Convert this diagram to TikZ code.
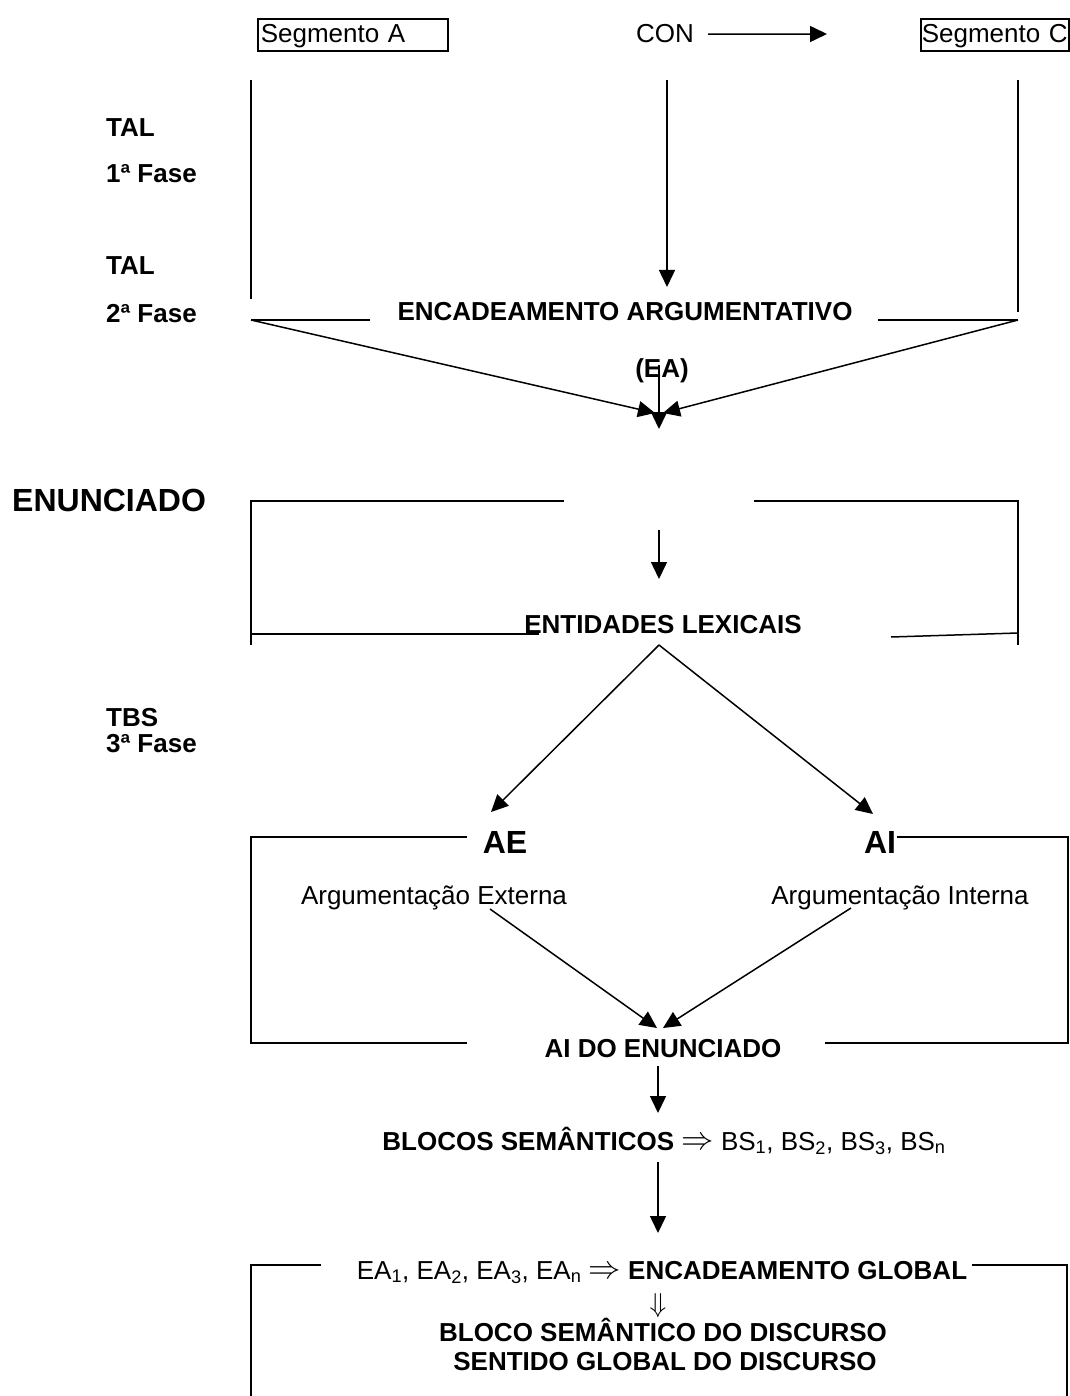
\documentclass[tikz,border=0pt]{standalone}
\usepackage{fontspec}
\setmainfont{Liberation Sans}
\usetikzlibrary{arrows.meta}

\tikzset{
  txt/.style={font=\fontsize{26}{30}\selectfont, inner sep=0pt},
  btxt/.style={font=\fontsize{26}{30}\selectfont\bfseries, inner sep=0pt},
  bigtxt/.style={font=\fontsize{32}{36}\selectfont\bfseries, inner sep=0pt},
  ln/.style={line width=1.5pt},
  arr/.style={line width=1.5pt, -{Triangle[length=17pt,width=16pt]}},
  segbox/.style={txt, draw, line width=1.6pt, anchor=north west, minimum height=32pt,
    align=left, text height=19pt, text depth=3pt}
}
% thin double arrows used inside the text lines
\newcommand{\implarrow}{\raisebox{1pt}{\scalebox{1.3}{$\Rightarrow$}}}
\newcommand{\downimpl}{\scalebox{1.1}{$\Downarrow$}}

\begin{document}
\begin{tikzpicture}[x=1pt, y=-1pt]
\useasboundingbox (0,0) rectangle (1069,1396);

% --- top row: segments and connector
\node[segbox, minimum width=190pt, text width=184pt] (segA) at (257,18) {Segmento A};
\node[segbox, minimum width=148pt, text width=146pt] (segC) at (920,18) {Segmento C};
\node[txt, anchor=base west] (con) at (636,43) {CON};
\coordinate (conTip) at (827,34);
\draw[arr] ([xshift=14pt]con.east) -- (conTip);

% --- side labels
\node[btxt, anchor=base west] (talA) at (106,137) {TAL};
\node[btxt, anchor=base west] (faseA) at (106,183) {1ª Fase};
\node[btxt, anchor=base west] (talB) at (106,275) {TAL};
\node[btxt, anchor=base west] (faseB) at (106,322) {2ª Fase};
\node[bigtxt, anchor=base west] (enun) at (12,511) {ENUNCIADO};
\node[btxt, anchor=base west] (tbs) at (106,726) {TBS};
\node[btxt, anchor=base west] (faseC) at (106,752) {3ª Fase};

% --- first and second phase
\coordinate (conFoot) at (667,80);
\coordinate (conDrop) at (667,287);
\draw[ln] (251,80) -- (251,299);
\draw[ln] (1018,80) -- (1018,312);
\draw[arr] (conFoot) -- (conDrop);

\node[btxt, anchor=base] (ea) at (625,320) {ENCADEAMENTO ARGUMENTATIVO};
\node[btxt, anchor=base] (eaAbbr) at (662,377) {(EA)};
\coordinate (eaL) at (251,320);
\coordinate (eaR) at (1018,320);
\draw[ln] (eaL) -- (370,320);
\draw[ln] (878,320) -- (eaR);
\coordinate (mergeL) at (655,413);
\coordinate (mergeR) at (663,413);
\coordinate (eaStem) at (659,365);
\coordinate (eaDrop) at (659,429);
\draw[arr] (eaL) -- (mergeL);
\draw[arr] (eaR) -- (mergeR);
\draw[arr] (eaStem) -- (eaDrop);

% --- statement bracket
\draw[ln] (564,501) -- (251,501) -- (251,645);
\draw[ln] (754,501) -- (1018,501) -- (1018,645);
\coordinate (enTop) at (659,530);
\coordinate (enBot) at (659,579);
\draw[arr] (enTop) -- (enBot);
\node[btxt, anchor=base] (lex) at (663,633) {ENTIDADES LEXICAIS};
\draw[ln] (251,634) -- (539,634);
\draw[ln] (891,637) -- (1018,633);

\coordinate (lexApex) at (659,645);
\coordinate (aeTip) at (491,812);
\coordinate (aiTip) at (873,814);
\draw[arr] (lexApex) -- (aeTip);
\draw[arr] (lexApex) -- (aiTip);

% --- external / internal argumentation
\draw[ln] (467,837) -- (251,837) -- (251,1043) -- (467,1043);
\draw[ln] (897,837) -- (1068,837) -- (1068,1043) -- (825,1043);
\node[bigtxt, anchor=base] (ae) at (505,853) {AE};
\node[bigtxt, anchor=base] (ai) at (880,853) {AI};
\node[txt, anchor=base] (aeTxt) at (434,904) {Argumentação Externa};
\node[txt, anchor=base] (aiTxt) at (900,904) {Argumentação Interna};
\coordinate (aeFrom) at (490,909);
\coordinate (aiFrom) at (851,908);
\coordinate (joinL) at (657,1028);
\coordinate (joinR) at (663,1028);
\draw[arr] (aeFrom) -- (joinL);
\draw[arr] (aiFrom) -- (joinR);
\node[btxt, anchor=base] (aido) at (663,1057) {AI DO ENUNCIADO};

% --- semantic blocks
\coordinate (aidoFoot) at (658,1066);
\coordinate (blocosHead) at (658,1113);
\draw[arr] (aidoFoot) -- (blocosHead);
\node[txt, anchor=base] (blocos) at (664,1150)
  {\textbf{BLOCOS SEMÂNTICOS} \implarrow{} BS\textsubscript{1}, BS\textsubscript{2}, BS\textsubscript{3}, BS\textsubscript{n}};
\coordinate (blocosFoot) at (658,1162);
\coordinate (globalHead) at (658,1233);
\draw[arr] (blocosFoot) -- (globalHead);

% --- discourse box
\draw[ln] (321,1265) -- (251,1265) -- (251,1396);
\draw[ln] (972,1265) -- (1067,1265) -- (1067,1396);
\node[txt, anchor=base] (global) at (662,1279)
  {EA\textsubscript{1}, EA\textsubscript{2}, EA\textsubscript{3}, EA\textsubscript{n} \implarrow{} \textbf{ENCADEAMENTO GLOBAL}};
\node[txt] (dn) at (658,1306) {\downimpl};
\node[btxt, anchor=base] (bsd) at (663,1341) {BLOCO SEMÂNTICO DO DISCURSO};
\node[btxt, anchor=base] (sgd) at (665,1370) {SENTIDO GLOBAL DO DISCURSO};
\end{tikzpicture}
\end{document}
